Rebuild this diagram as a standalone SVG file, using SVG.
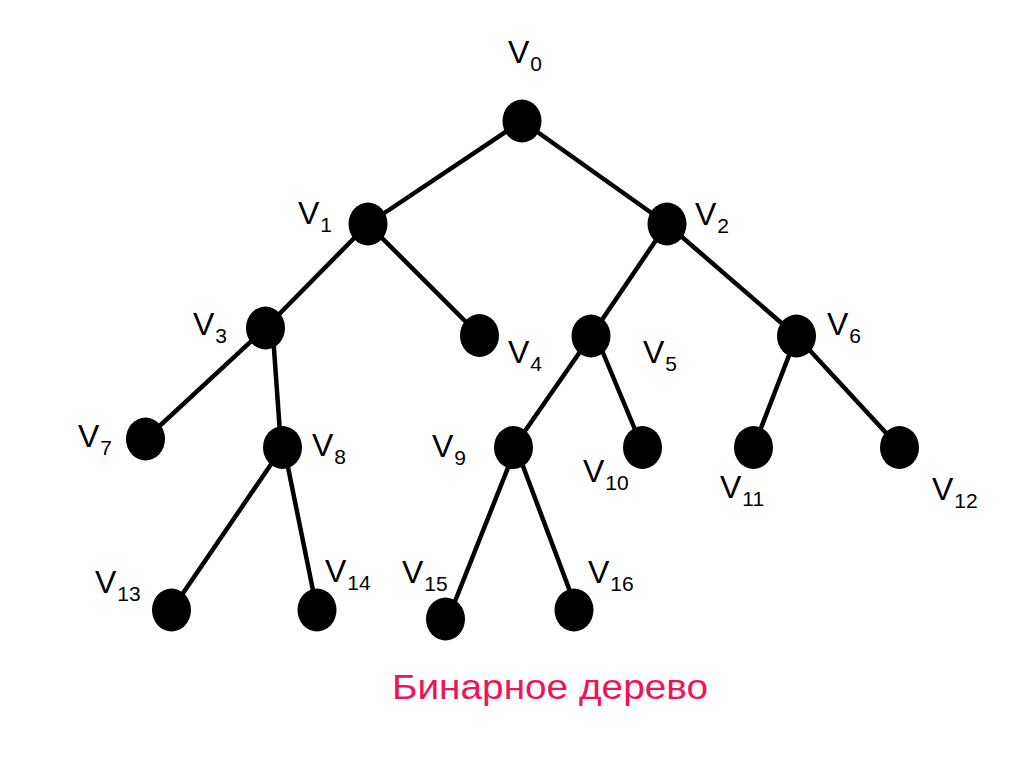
<svg xmlns="http://www.w3.org/2000/svg" width="1024" height="767" viewBox="0 0 1024 767">
<style>
.e{stroke:#000;stroke-width:4.5;stroke-linecap:round;fill:none}
.n{fill:#000}
.l{font-family:"Liberation Sans",Arial,sans-serif;font-size:32px;fill:#000}
.s{font-size:21px}
.t{font-family:"Liberation Sans",Arial,sans-serif;font-size:35px;fill:#EE1459}
</style>
<rect width="1024" height="767" fill="#fff"/>
<g id="connectors">
<line class="e" x1="522" y1="121" x2="368" y2="224"/>
<line class="e" x1="522" y1="121" x2="667" y2="224"/>
<line class="e" x1="368" y1="224" x2="265.5" y2="328"/>
<line class="e" x1="368" y1="224" x2="479.5" y2="335.5"/>
<line class="e" x1="667" y1="224" x2="591" y2="336"/>
<line class="e" x1="667" y1="224" x2="796.5" y2="336"/>
<line class="e" x1="265.5" y1="328" x2="145.5" y2="439"/>
<line class="e" x1="273" y1="335" x2="281" y2="447"/>
<line class="e" x1="591" y1="336" x2="513.5" y2="447.5"/>
<line class="e" x1="596" y1="336" x2="642.5" y2="447.5"/>
<line class="e" x1="796.5" y1="336" x2="753.5" y2="447.5"/>
<line class="e" x1="796.5" y1="336" x2="899.5" y2="447.5"/>
<line class="e" x1="282.5" y1="447.5" x2="171.5" y2="610"/>
<line class="e" x1="284" y1="447.5" x2="317" y2="610"/>
<line class="e" x1="516" y1="447.5" x2="448" y2="619"/>
<line class="e" x1="516" y1="447.5" x2="577" y2="610"/>
</g>
<g id="v0"><ellipse class="n" cx="522" cy="121" rx="19.5" ry="21.5"/><text class="l" x="508" y="63">V<tspan class="s" dx="1" dy="8">0</tspan></text></g>
<g id="v1"><ellipse class="n" cx="368" cy="224" rx="19.5" ry="21.5"/><text class="l" x="298" y="224">V<tspan class="s" dx="1" dy="8">1</tspan></text></g>
<g id="v2"><ellipse class="n" cx="667" cy="224" rx="19.5" ry="21.5"/><text class="l" x="695" y="225">V<tspan class="s" dx="1" dy="8">2</tspan></text></g>
<g id="v3"><ellipse class="n" cx="265.5" cy="328" rx="19.5" ry="21.5"/><text class="l" x="193" y="335">V<tspan class="s" dx="1" dy="8">3</tspan></text></g>
<g id="v4"><ellipse class="n" cx="479.5" cy="335.5" rx="19.5" ry="21.5"/><text class="l" x="508" y="363">V<tspan class="s" dx="1" dy="8">4</tspan></text></g>
<g id="v5"><ellipse class="n" cx="591" cy="336" rx="19.5" ry="21.5"/><text class="l" x="643" y="363">V<tspan class="s" dx="1" dy="8">5</tspan></text></g>
<g id="v6"><ellipse class="n" cx="796.5" cy="336" rx="19.5" ry="21.5"/><text class="l" x="827" y="335">V<tspan class="s" dx="1" dy="8">6</tspan></text></g>
<g id="v7"><ellipse class="n" cx="145.5" cy="439" rx="19.5" ry="21.5"/><text class="l" x="78" y="447">V<tspan class="s" dx="1" dy="8">7</tspan></text></g>
<g id="v8"><ellipse class="n" cx="282.5" cy="447.5" rx="19.5" ry="21.5"/><text class="l" x="312" y="456">V<tspan class="s" dx="1" dy="8">8</tspan></text></g>
<g id="v9"><ellipse class="n" cx="513.5" cy="447.5" rx="19.5" ry="21.5"/><text class="l" x="432" y="457">V<tspan class="s" dx="1" dy="8">9</tspan></text></g>
<g id="v10"><ellipse class="n" cx="642.5" cy="447.5" rx="19.5" ry="21.5"/><text class="l" x="583" y="482">V<tspan class="s" dx="1" dy="8">10</tspan></text></g>
<g id="v11"><ellipse class="n" cx="753.5" cy="447.5" rx="19.5" ry="21.5"/><text class="l" x="720" y="498">V<tspan class="s" dx="1" dy="8">11</tspan></text></g>
<g id="v12"><ellipse class="n" cx="899.5" cy="447.5" rx="19.5" ry="21.5"/><text class="l" x="932" y="500">V<tspan class="s" dx="1" dy="8">12</tspan></text></g>
<g id="v13"><ellipse class="n" cx="171.5" cy="610" rx="19.5" ry="21.5"/><text class="l" x="95" y="593">V<tspan class="s" dx="1" dy="8">13</tspan></text></g>
<g id="v14"><ellipse class="n" cx="317" cy="610" rx="19.5" ry="21.5"/><text class="l" x="325" y="582">V<tspan class="s" dx="1" dy="8">14</tspan></text></g>
<g id="v15"><ellipse class="n" cx="445.5" cy="619" rx="19.5" ry="21.5"/><text class="l" x="402" y="583">V<tspan class="s" dx="1" dy="8">15</tspan></text></g>
<g id="v16"><ellipse class="n" cx="574" cy="610" rx="19.5" ry="21.5"/><text class="l" x="588" y="583">V<tspan class="s" dx="1" dy="8">16</tspan></text></g>
<text class="t" x="392" y="699" textLength="316" lengthAdjust="spacingAndGlyphs">Бинарное дерево</text>
</svg>
